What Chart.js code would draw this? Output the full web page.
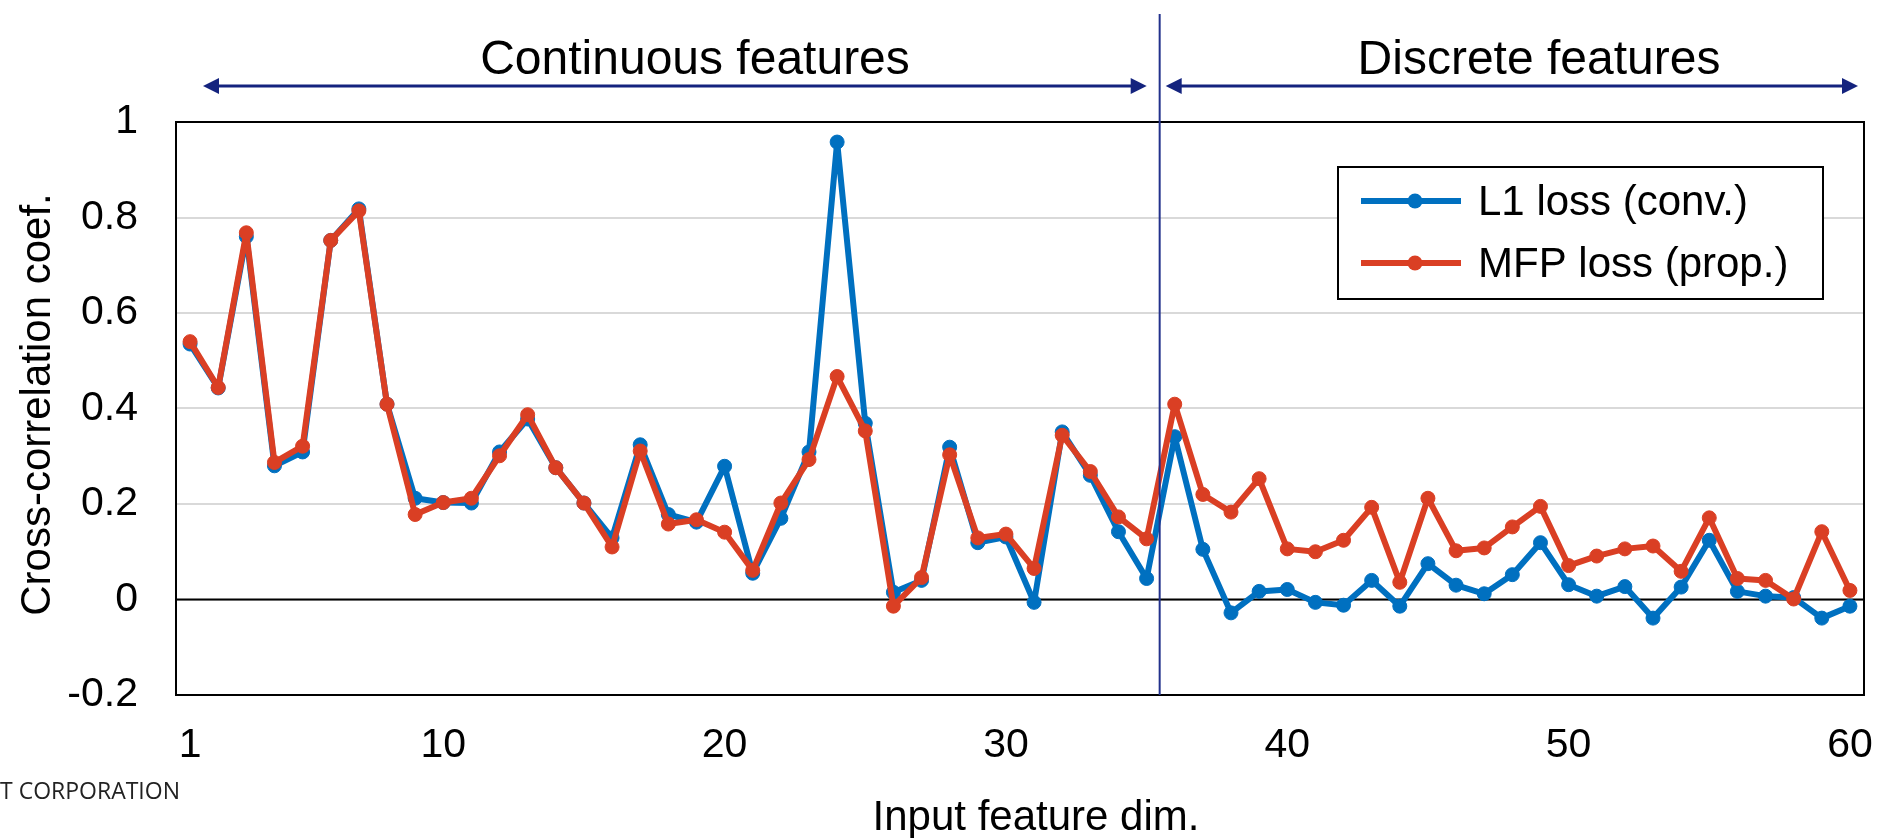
<!DOCTYPE html>
<html>
<head>
<meta charset="utf-8">
<script src="https://cdn.jsdelivr.net/npm/chart.js@4.4.0/dist/chart.umd.min.js"></script>
<style>
html,body{margin:0;padding:0;background:#ffffff;}
#wrap{width:1878px;height:838px;position:relative;}
</style>
</head>
<body>
<div id="wrap"><canvas id="c" width="1878" height="838"></canvas></div>
<script>
// ---------------- data ----------------
const categories = [1,2,3,4,5,6,7,8,9,10,11,12,13,14,15,16,17,18,19,20,
  21,22,23,24,25,26,27,28,29,30,31,32,33,34,35,36,37,38,39,40,
  41,42,43,44,45,46,47,48,49,50,51,52,53,54,55,56,57,58,59,60];
const xTickLabels = ['1','10','20','30','40','50','60'];
const yTickValues = [-0.2, 0, 0.2, 0.4, 0.6, 0.8, 1];
const yTickLabels = ['-0.2','0','0.2','0.4','0.6','0.8','1'];

const l1Loss = [0.535,0.443,0.760,0.280,0.309,0.752,0.818,0.409,0.212,0.203,
  0.202,0.309,0.378,0.276,0.202,0.129,0.324,0.178,0.162,0.279,
  0.055,0.170,0.309,0.958,0.369,0.015,0.040,0.319,0.119,0.131,
  -0.006,0.351,0.260,0.142,0.044,0.341,0.105,-0.028,0.017,0.021,
  -0.006,-0.012,0.040,-0.014,0.075,0.030,0.012,0.052,0.119,0.031,
  0.007,0.027,-0.039,0.026,0.124,0.017,0.007,0.004,-0.039,-0.014];
const mfpLoss = [0.540,0.444,0.768,0.287,0.321,0.752,0.814,0.409,0.178,0.203,
  0.212,0.301,0.387,0.276,0.202,0.110,0.311,0.158,0.167,0.141,
  0.061,0.202,0.293,0.467,0.353,-0.014,0.046,0.303,0.129,0.137,
  0.065,0.344,0.268,0.173,0.127,0.409,0.220,0.183,0.253,0.106,
  0.100,0.124,0.193,0.036,0.212,0.102,0.108,0.152,0.195,0.071,
  0.091,0.106,0.112,0.059,0.171,0.044,0.040,0.001,0.142,0.019];

const seriesNames = ['L1 loss (conv.)', 'MFP loss (prop.)'];
const seriesColors = ['#0070C0', '#DA3F24'];
const groupLabels = ['Continuous features', 'Discrete features'];
const lastContinuousDim = 35;
const xAxisTitle = 'Input feature dim.';
const yAxisTitle = 'Cross-correlation coef.';
const footerText = 'T CORPORATION';

// ---------------- drawing ----------------
const FONT = '"Liberation Sans", Arial, Helvetica, sans-serif';
const NAVY = '#14237E';
const PLOT_RIGHT = 1864;

function arrowH(ctx, x1, x2, y) {
  const hl = 16, hh = 8;
  ctx.strokeStyle = NAVY; ctx.fillStyle = NAVY; ctx.lineWidth = 3;
  ctx.beginPath(); ctx.moveTo(x1 + hl - 2, y); ctx.lineTo(x2 - hl + 2, y); ctx.stroke();
  ctx.beginPath(); ctx.moveTo(x1, y); ctx.lineTo(x1 + hl, y - hh); ctx.lineTo(x1 + hl, y + hh); ctx.closePath(); ctx.fill();
  ctx.beginPath(); ctx.moveTo(x2, y); ctx.lineTo(x2 - hl, y - hh); ctx.lineTo(x2 - hl, y + hh); ctx.closePath(); ctx.fill();
}

const deco = {
  id: 'deco',
  beforeDatasetsDraw(chart) {
    const {ctx, chartArea: a, scales: {y}} = chart;
    ctx.save();
    const y0 = y.getPixelForValue(0);
    ctx.strokeStyle = '#000'; ctx.lineWidth = 2;
    ctx.beginPath(); ctx.moveTo(a.left, y0); ctx.lineTo(a.right, y0); ctx.stroke();
    ctx.restore();
  },
  afterDatasetsDraw(chart) {
    const {ctx, chartArea: a, scales: {x}} = chart;
    ctx.save();
    // plot frame
    ctx.strokeStyle = '#000'; ctx.lineWidth = 2;
    ctx.strokeRect(a.left, a.top, a.right - a.left, a.bottom - a.top);

    // divider between continuous and discrete features
    const ix = categories.indexOf(lastContinuousDim);
    const dx = (x.getPixelForValue(ix) + x.getPixelForValue(ix + 1)) / 2 - 1;
    ctx.strokeStyle = '#22318C'; ctx.lineWidth = 2;
    ctx.beginPath(); ctx.moveTo(dx, 14); ctx.lineTo(dx, a.bottom); ctx.stroke();

    // arrows
    arrowH(ctx, a.left + 27, dx - 13, 86);
    arrowH(ctx, dx + 6, a.right - 6, 86);

    // group labels
    ctx.fillStyle = '#000';
    ctx.font = '48px ' + FONT;
    ctx.textAlign = 'center'; ctx.textBaseline = 'alphabetic';
    ctx.fillText(groupLabels[0], 695, 74);
    ctx.fillText(groupLabels[1], 1539, 74);

    // legend
    const lx = 1338, ly = 167, lw = 485, lh = 132;
    ctx.fillStyle = '#fff'; ctx.fillRect(lx, ly, lw, lh);
    ctx.strokeStyle = '#000'; ctx.lineWidth = 2; ctx.strokeRect(lx, ly, lw, lh);
    const rows = [201, 263];
    ctx.font = '42px ' + FONT; ctx.textAlign = 'left'; ctx.textBaseline = 'middle';
    for (let i = 0; i < 2; i++) {
      ctx.strokeStyle = seriesColors[i]; ctx.lineWidth = 6;
      ctx.beginPath(); ctx.moveTo(1361, rows[i]); ctx.lineTo(1461, rows[i]); ctx.stroke();
      ctx.fillStyle = seriesColors[i];
      ctx.beginPath(); ctx.arc(1415, rows[i], 7.5, 0, Math.PI * 2); ctx.fill();
      ctx.fillStyle = '#000';
      ctx.fillText(seriesNames[i], 1478, rows[i] + 2);
    }

    // axis titles
    ctx.fillStyle = '#000';
    ctx.font = '42px ' + FONT; ctx.textAlign = 'center'; ctx.textBaseline = 'alphabetic';
    ctx.fillText(xAxisTitle, 1036, 830);
    ctx.save();
    ctx.translate(50, (a.top + a.bottom) / 2 - 4);
    ctx.rotate(-Math.PI / 2);
    ctx.fillText(yAxisTitle, 0, 0);
    ctx.restore();

    // footer fragment
    ctx.font = '23px "Open Sans", "Noto Sans", sans-serif';
    ctx.textAlign = 'left'; ctx.fillStyle = '#222';
    ctx.fillText(footerText, 0, 799);
    ctx.restore();
  }
};

new Chart(document.getElementById('c'), {
  type: 'line',
  data: {
    labels: categories,
    datasets: [
      {label: seriesNames[0], data: l1Loss, borderColor: seriesColors[0], backgroundColor: seriesColors[0],
       pointBackgroundColor: seriesColors[0], pointBorderColor: seriesColors[0], borderWidth: 6,
       borderJoinStyle: 'round', borderCapStyle: 'round',
       pointRadius: 7, pointBorderWidth: 1, tension: 0, order: 1},
      {label: seriesNames[1], data: mfpLoss, borderColor: seriesColors[1], backgroundColor: seriesColors[1],
       pointBackgroundColor: seriesColors[1], pointBorderColor: seriesColors[1], borderWidth: 6,
       borderJoinStyle: 'round', borderCapStyle: 'round',
       pointRadius: 7, pointBorderWidth: 1, tension: 0, order: 0}
    ]
  },
  options: {
    responsive: false,
    animation: false,
    devicePixelRatio: 1,
    layout: {padding: {left: 0, right: 1878 - PLOT_RIGHT, top: 122, bottom: 0}},
    plugins: {legend: {display: false}, tooltip: {enabled: false}, title: {display: false}},
    scales: {
      x: {
        type: 'category',
        offset: true,
        grid: {display: false, drawTicks: true, tickLength: 26},
        border: {display: false},
        ticks: {
          autoSkip: false, maxRotation: 0, minRotation: 0, padding: 0,
          color: '#000', font: {family: FONT, size: 41},
          callback: function(v, i) {
            const s = String(categories[i]);
            return xTickLabels.includes(s) ? s : '';
          }
        },
        afterFit(scale) {
          scale.height = 143;
          scale.paddingLeft = 0;
          scale.paddingRight = 0;
        }
      },
      y: {
        min: -0.2, max: 1,
        grid: {color: '#D9D9D9', lineWidth: 2, drawTicks: false},
        border: {display: false},
        afterBuildTicks(scale) { scale.ticks = yTickValues.map(v => ({value: v})); },
        ticks: {
          padding: 38, color: '#000', font: {family: FONT, size: 41},
          callback: function(v) {
            const k = yTickValues.findIndex(t => Math.abs(t - v) < 1e-9);
            return k >= 0 ? yTickLabels[k] : '';
          }
        },
        afterFit(scale) { scale.width = 176; scale.paddingTop = 0; scale.paddingBottom = 0; }
      }
    }
  },
  plugins: [deco]
});
</script>
</body>
</html>
